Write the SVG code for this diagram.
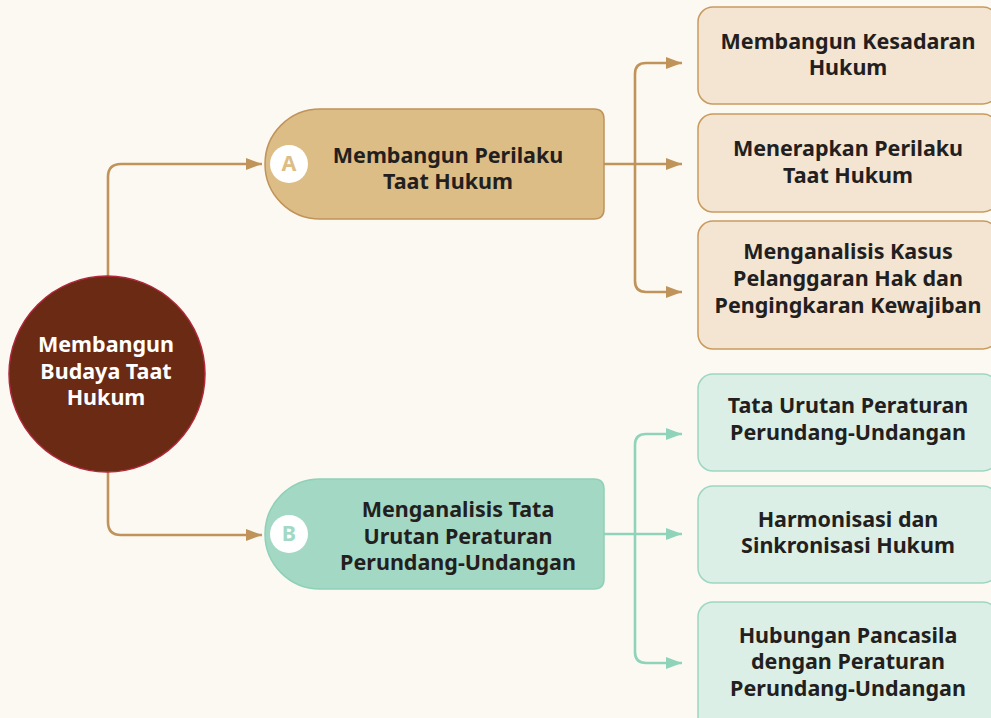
<svg xmlns="http://www.w3.org/2000/svg" width="991" height="718" viewBox="0 0 991 718">
<defs>
<style>
.t{font-family:"Noto Sans","Open Sans","Liberation Sans",sans-serif;font-weight:bold;font-size:21.5px;fill:#231f20;text-anchor:middle}
.w{fill:#ffffff}
.ct{fill:none;stroke:#c0935a;stroke-width:2.6}
.cg{fill:none;stroke:#8fd3bb;stroke-width:2.6}
.bt{fill:#f3e5d2;stroke:#c99a5e;stroke-width:1.5}
.bg{fill:#dcefe6;stroke:#9dd7c1;stroke-width:1.5}
</style>
<marker id="at" viewBox="0 0 16 12" refX="16" refY="6" markerWidth="16" markerHeight="12" markerUnits="userSpaceOnUse" orient="auto"><path d="M0,0 L16,6 L0,12 Z" fill="#c0935a"/></marker>
<marker id="ag" viewBox="0 0 16 12" refX="16" refY="6" markerWidth="16" markerHeight="12" markerUnits="userSpaceOnUse" orient="auto"><path d="M0,0 L16,6 L0,12 Z" fill="#8fd3bb"/></marker>
</defs>
<rect width="991" height="718" fill="#fcf9f2"/>
<g id="connectors">
<path class="ct" d="M108,276 V177 Q108,164 121,164 H262" marker-end="url(#at)"/>
<path class="ct" d="M108,472 V522 Q108,535 121,535 H262" marker-end="url(#at)"/>
<path class="ct" d="M604,164 H682" marker-end="url(#at)"/>
<path class="ct" d="M635,164 V74 Q635,63 646,63 H682" marker-end="url(#at)"/>
<path class="ct" d="M635,164 V281 Q635,292 646,292 H682" marker-end="url(#at)"/>
<path class="cg" d="M604,534 H682" marker-end="url(#ag)"/>
<path class="cg" d="M635,534 V445 Q635,434 646,434 H682" marker-end="url(#ag)"/>
<path class="cg" d="M635,534 V652 Q635,663 646,663 H682" marker-end="url(#ag)"/>
</g>
<g id="root">
<circle cx="107" cy="374" r="98" fill="#6a2a14" stroke="#b0283a" stroke-width="1.5"/>
<text class="t w" x="106" y="352">Membangun</text>
<text class="t w" x="106" y="379">Budaya Taat</text>
<text class="t w" x="106" y="405">Hukum</text>
</g>
<g id="nodeA">
<path d="M320,109 H594 Q604,109 604,119 V209 Q604,219 594,219 H320 A55,55 0 0 1 320,109 Z" fill="#dcbd85" stroke="#c0935a" stroke-width="1.5"/>
<circle cx="289" cy="164" r="19" fill="#ffffff"/>
<text class="t" x="289" y="171" style="fill:#dcbd85">A</text>
<text class="t" x="448" y="163">Membangun Perilaku</text>
<text class="t" x="448" y="189">Taat Hukum</text>
</g>
<g id="nodeB">
<path d="M320,479 H594 Q604,479 604,489 V579 Q604,589 594,589 H320 A55,55 0 0 1 320,479 Z" fill="#a3d8c4" stroke="#8fd0b8" stroke-width="1.5"/>
<circle cx="289" cy="534" r="19" fill="#ffffff"/>
<text class="t" x="289" y="541" style="fill:#a3d8c4">B</text>
<text class="t" x="458" y="517">Menganalisis Tata</text>
<text class="t" x="458" y="544">Urutan Peraturan</text>
<text class="t" x="458" y="570">Perundang-Undangan</text>
</g>
<g id="a1">
<rect class="bt" x="698" y="7" width="300" height="97" rx="15"/>
<text class="t" x="848" y="49">Membangun Kesadaran</text>
<text class="t" x="848" y="75">Hukum</text>
</g>
<g id="a2">
<rect class="bt" x="698" y="114" width="300" height="98" rx="15"/>
<text class="t" x="848" y="156">Menerapkan Perilaku</text>
<text class="t" x="848" y="183">Taat Hukum</text>
</g>
<g id="a3">
<rect class="bt" x="698" y="221" width="300" height="128" rx="15"/>
<text class="t" x="848" y="259">Menganalisis Kasus</text>
<text class="t" x="848" y="286">Pelanggaran Hak dan</text>
<text class="t" x="848" y="313">Pengingkaran Kewajiban</text>
</g>
<g id="b1">
<rect class="bg" x="698" y="374" width="300" height="97" rx="15"/>
<text class="t" x="848" y="413">Tata Urutan Peraturan</text>
<text class="t" x="848" y="440">Perundang-Undangan</text>
</g>
<g id="b2">
<rect class="bg" x="698" y="486" width="300" height="97" rx="15"/>
<text class="t" x="848" y="527">Harmonisasi dan</text>
<text class="t" x="848" y="553">Sinkronisasi Hukum</text>
</g>
<g id="b3">
<rect class="bg" x="698" y="602" width="300" height="130" rx="15"/>
<text class="t" x="848" y="643">Hubungan Pancasila</text>
<text class="t" x="848" y="669">dengan Peraturan</text>
<text class="t" x="848" y="696">Perundang-Undangan</text>
</g>
</svg>
